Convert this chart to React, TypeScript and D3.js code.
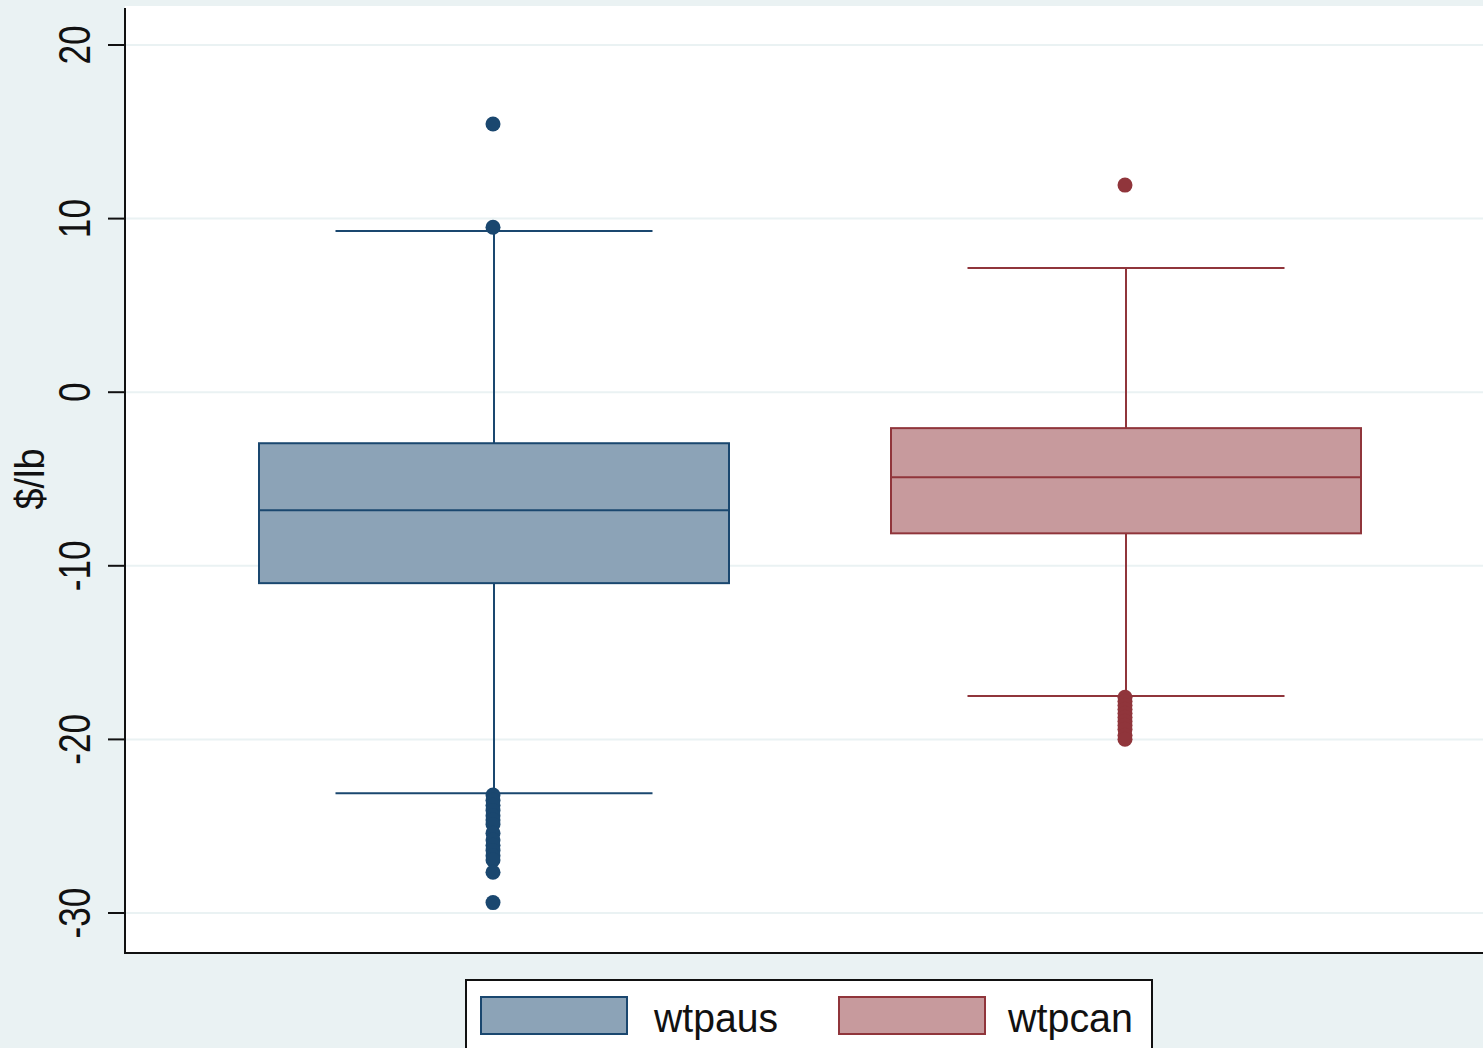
import React, { useEffect } from "react";
import * as d3 from "d3";

const categories = ["wtpaus", "wtpcan"];
const q1 = [-11.0, -8.13];
const median = [-6.8, -4.9];
const q3 = [-2.94, -2.07];
const whiskerLow = [-23.1, -17.5];
const whiskerHigh = [9.28, 7.15];
const outliersAus = [15.45, 9.5, -23.2, -23.5, -23.8, -24.1, -24.4, -24.65, -24.9, -25.4, -25.8, -26.1, -26.4, -26.7, -26.95, -27.65, -29.4];
const outliersCan = [11.93, -17.57, -17.8, -18.03, -18.26, -18.5, -18.72, -18.95, -19.18, -19.41, -19.76, -19.99];
const outliers = [outliersAus, outliersCan];
const yTicks = [-30, -20, -10, 0, 10, 20];
const yTitle = "$/lb";

const W = 1483;
const H = 1048;
const strokeColors = ["#1a476f", "#90353b"];
const fillColors = ["#8ca3b7", "#c79a9d"];
const bg = "#eaf2f3";
const font = "'Liberation Sans', Arial, sans-serif";

export default function App() {
  useEffect(() => {
    document.body.style.margin = "0";
  }, []);

  const plotLeft = 125;
  const plotRight = W;
  const plotTop = 6;
  const plotBottom = 953;

  const y = d3.scaleLinear().domain([-30, 20]).range([913, 45]);
  const x = d3.scalePoint<string>().domain(categories).range([494, 1126]);
  const boxW = 470;
  const capW = 317;

  return (
    <svg width={W} height={H} style={{ display: "block", position: "absolute", left: 0, top: 0 }}>
      <rect x={0} y={0} width={W} height={H} fill={bg} />
      <rect x={plotLeft} y={plotTop} width={plotRight - plotLeft} height={plotBottom - plotTop} fill="#ffffff" />
      {yTicks.map((t) => (
        <line key={"g" + t} x1={plotLeft} x2={plotRight} y1={y(t)} y2={y(t)} stroke={bg} strokeWidth={2} />
      ))}
      {categories.map((c, i) => {
        const cx = x(c) as number;
        const sc = strokeColors[i];
        return (
          <g key={c}>
            <line x1={cx} x2={cx} y1={y(whiskerHigh[i])} y2={y(q3[i])} stroke={sc} strokeWidth={2} />
            <line x1={cx} x2={cx} y1={y(q1[i])} y2={y(whiskerLow[i])} stroke={sc} strokeWidth={2} />
            <line x1={cx - capW / 2} x2={cx + capW / 2} y1={y(whiskerHigh[i])} y2={y(whiskerHigh[i])} stroke={sc} strokeWidth={2} />
            <line x1={cx - capW / 2} x2={cx + capW / 2} y1={y(whiskerLow[i])} y2={y(whiskerLow[i])} stroke={sc} strokeWidth={2} />
            <rect x={cx - boxW / 2} y={y(q3[i])} width={boxW} height={y(q1[i]) - y(q3[i])} fill={fillColors[i]} stroke={sc} strokeWidth={2} />
            <line x1={cx - boxW / 2} x2={cx + boxW / 2} y1={y(median[i])} y2={y(median[i])} stroke={sc} strokeWidth={2} />
            {outliers[i].map((v, j) => (
              <circle key={j} cx={cx - 1} cy={y(v)} r={7.5} fill={sc} />
            ))}
          </g>
        );
      })}
      {/* axes */}
      <line x1={plotLeft} x2={plotLeft} y1={8} y2={plotBottom + 1} stroke="#111" strokeWidth={2} />
      <line x1={plotLeft} x2={plotRight} y1={plotBottom} y2={plotBottom} stroke="#111" strokeWidth={2} />
      {yTicks.map((t) => (
        <g key={"t" + t}>
          <line x1={108} x2={plotLeft} y1={y(t)} y2={y(t)} stroke="#111" strokeWidth={2} />
          <text
            transform={`translate(90, ${y(t)}) rotate(-90) scale(0.8, 1)`}
            textAnchor="middle"
            fontFamily={font}
            fontSize={44}
            fill="#111"
          >
            {t < 0 ? "-" + Math.abs(t) : String(t)}
          </text>
        </g>
      ))}
      <text
        transform={`translate(44, 479) rotate(-90) scale(0.95, 1)`}
        textAnchor="middle"
        fontFamily={font}
        fontSize={40}
        fill="#111"
      >
        {yTitle}
      </text>
      {/* legend */}
      <rect x={466} y={980} width={686} height={90} fill="#ffffff" stroke="#111" strokeWidth={2} />
      {categories.map((c, i) => {
        const kx = [481, 839][i];
        const tx = [654, 1008][i];
        return (
          <g key={"l" + c}>
            <rect x={kx} y={997} width={146} height={37} fill={fillColors[i]} stroke={strokeColors[i]} strokeWidth={2} />
            <text x={tx} y={1032} fontFamily={font} fontSize={41} fill="#111" textLength={[124, 125][i]} lengthAdjust="spacingAndGlyphs">
              {c}
            </text>
          </g>
        );
      })}
    </svg>
  );
}
